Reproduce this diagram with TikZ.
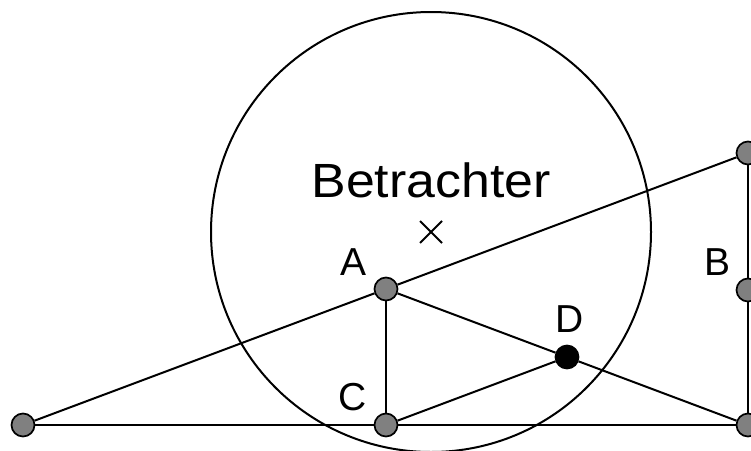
\documentclass[tikz,border=0pt]{standalone}
\usepackage{fontspec}
\setmainfont{Liberation Sans}
\usepackage{tikz}
\usetikzlibrary{positioning, calc}
\definecolor{dotgray}{rgb}{0.5, 0.5, 0.5}
\tikzstyle{pt} = [circle, draw=black, line width=1.7pt, fill=dotgray, minimum size=23pt, inner sep=0pt]
\tikzstyle{edge} = [line width=2pt]
\tikzstyle{lbl} = [inner sep=0pt, font=\fontsize{39}{46}\selectfont]

\begin{document}
\begin{tikzpicture}[x=1pt, y=-1pt]
    \useasboundingbox (0,0) rectangle (751,450);

    % viewer region
    \draw[edge] (431,232) circle (220pt);
    \coordinate (eye) at (431,232);
    \draw[edge] ($(eye)+(-11,-11)$) -- ($(eye)+(11,11)$);
    \draw[edge] ($(eye)+(-11,11)$) -- ($(eye)+(11,-11)$);
    \node[inner sep=0pt, anchor=base, font=\fontsize{48}{58}\selectfont] (viewer) at (431,197) {\scalebox{1.08}[1]{Betrachter}};

    % points
    \node[pt] (left) at (23,425) {};
    \node[pt] (A) at (386,289) {};
    \node[pt] (C) at (386,425) {};
    \node[pt, fill=black] (D) at (567,357) {};
    \node[pt] (top) at (748,153) {};
    \node[pt] (B) at (748,290) {};
    \node[pt] (bottom) at (748,425) {};

    % connectors
    \draw[edge] (left) -- (A);
    \draw[edge] (A) -- (top);
    \draw[edge] (left) -- (C);
    \draw[edge] (C) -- (bottom);
    \draw[edge] (A) -- (C);
    \draw[edge] (A) -- (D);
    \draw[edge] (D) -- (bottom);
    \draw[edge] (C) -- (D);
    \draw[edge] (top) -- (B);
    \draw[edge] (B) -- (bottom);

    % labels
    \node[lbl] (labA) at (353,262.5) {A};
    \node[lbl] (labB) at (717.5,262.5) {B};
    \node[lbl] (labC) at (353,397) {C};
    \node[lbl] (labD) at (570,319) {D};
\end{tikzpicture}
\end{document}
